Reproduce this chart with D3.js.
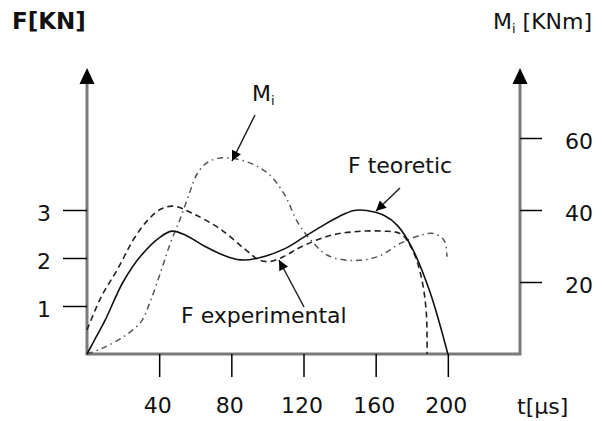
<!DOCTYPE html>
<html>
<head>
<meta charset="utf-8">
<script src="https://cdn.jsdelivr.net/npm/d3@7"></script>
<style>
  body { margin: 0; background: #fff; }
  text { font-family: "DejaVu Sans", Verdana, sans-serif; fill: #111; }
</style>
</head>
<body>
<div id="chart-area"></div>
<script>
// t [us] and values
const tTheor = [0, 5, 10, 20, 30, 40, 47, 55, 65, 75, 85, 95, 110, 120, 130, 140, 148, 155, 165, 172, 180, 190, 200];
const fTheor = [0, 0.35, 0.7, 1.5, 2.05, 2.42, 2.56, 2.47, 2.25, 2.07, 1.96, 2.0, 2.2, 2.43, 2.66, 2.87, 2.99, 2.99, 2.88, 2.68, 2.22, 1.3, 0];

const tExp = [0, 8, 17, 26, 34, 41, 48, 59, 74, 87, 96, 102, 110, 118, 133, 146, 164, 174, 180, 185, 188, 188.5];
const fExp = [0.5, 1.2, 1.77, 2.4, 2.8, 3.02, 3.08, 2.92, 2.6, 2.2, 1.95, 1.93, 2.05, 2.22, 2.45, 2.54, 2.56, 2.5, 2.2, 1.65, 0.9, 0];

const tMi = [0, 8, 20, 30, 35, 41, 46, 52, 57, 61, 67, 76, 89, 100, 109, 117, 124, 133, 146, 161, 174, 185, 192, 198, 199.5];
const mi = [0, 1.5, 4.7, 9, 14.5, 23, 30.5, 38, 45, 50, 53.3, 54.5, 53.3, 50.3, 44.7, 36.4, 31.7, 27.5, 26, 27, 30.8, 33, 33.5, 31.5, 27];

const xTicks = [40, 80, 120, 160, 200];
const fTicks = [1, 2, 3];
const mTicks = [20, 40, 60];

const width = 602, height = 421;

const svg = d3.select("#chart-area")
    .append("svg")
    .attr("width", width)
    .attr("height", height);

const x = d3.scaleLinear().domain([0, 240]).range([87, 520]);
const yF = d3.scaleLinear().domain([0, 3]).range([354, 210]);
const yM = d3.scaleLinear().domain([0, 60]).range([354, 138]);

const axisTop = 83;

svg.append("defs").append("marker")
    .attr("id", "head")
    .attr("viewBox", "0 0 10 10")
    .attr("refX", 10).attr("refY", 5)
    .attr("markerWidth", 12).attr("markerHeight", 10)
    .attr("markerUnits", "userSpaceOnUse")
    .attr("orient", "auto")
    .append("path")
    .attr("d", "M0,0 L10,5 L0,10 z")
    .attr("fill", "#000");

// axis frame
const axisColor = "#7a7a7a";
svg.append("path")
    .attr("d", `M${x(0)},${axisTop} V${yF(0)} H${x(240)} V${axisTop}`)
    .attr("fill", "none")
    .attr("stroke", axisColor)
    .attr("stroke-width", 3);

// axis arrowheads
[x(0), x(240)].forEach(ax => {
    svg.append("path")
        .attr("d", `M${ax},68 L${ax + 7.5},84 L${ax - 7.5},84 z`)
        .attr("fill", "#000");
});

// ticks
const gx = svg.append("g")
    .call(d3.axisBottom(x).tickValues(xTicks).tickSize(23).tickPadding(20).tickSizeOuter(0));
gx.attr("transform", `translate(-2,${yF(0)})`);
gx.selectAll(".tick line").attr("transform", "translate(2,0)");

const gl = svg.append("g")
    .attr("transform", `translate(${x(0)},0)`)
    .call(d3.axisLeft(yF).tickValues(fTicks).tickFormat(d3.format("d"))
        .tickSize(24).tickPadding(12).tickSizeOuter(0));

const gr = svg.append("g")
    .attr("transform", `translate(${x(240)},0)`)
    .call(d3.axisRight(yM).tickValues(mTicks).tickSize(22).tickPadding(23).tickSizeOuter(0));

[gx, gl, gr].forEach(g => {
    g.select(".domain").remove();
    g.selectAll(".tick line").attr("stroke", "#000").attr("stroke-width", 1.5);
    g.selectAll(".tick text")
        .attr("font-family", "DejaVu Sans, Verdana, sans-serif")
        .attr("font-size", 22)
        .attr("fill", "#111");
});
gl.selectAll(".tick text").attr("dy", "0.48em");
gr.selectAll(".tick text").attr("dy", "0.48em");

// curves
const smooth = d3.curveCatmullRom.alpha(0.5);
const lineF = d3.line().x(d => x(d[0])).y(d => yF(d[1])).curve(smooth);
const lineM = d3.line().x(d => x(d[0])).y(d => yM(d[1])).curve(smooth);

svg.append("path")
    .attr("d", lineM(d3.zip(tMi, mi)))
    .attr("fill", "none")
    .attr("stroke", "#555")
    .attr("stroke-width", 1.5)
    .attr("stroke-dasharray", "6,4,1.5,4");

svg.append("path")
    .attr("d", lineF(d3.zip(tExp, fExp)))
    .attr("fill", "none")
    .attr("stroke", "#222")
    .attr("stroke-width", 1.6)
    .attr("stroke-dasharray", "6,4");

svg.append("path")
    .attr("d", lineF(d3.zip(tTheor, fTheor)))
    .attr("fill", "none")
    .attr("stroke", "#111")
    .attr("stroke-width", 1.6);

// axis titles
svg.append("text")
    .attr("x", 12).attr("y", 29)
    .attr("font-size", 23)
    .attr("font-weight", "bold")
    .text("F[KN]");

const mTitle = svg.append("text")
    .attr("x", 493).attr("y", 29)
    .attr("font-size", 22);
mTitle.append("tspan").text("M");
mTitle.append("tspan").attr("font-size", 13).attr("dy", 4).text("i");
mTitle.append("tspan").attr("dy", -4).text(" [KNm]");

svg.append("text")
    .attr("x", 517).attr("y", 414)
    .attr("font-size", 22)
    .text("t[μs]");

// annotations
const miLabel = svg.append("text")
    .attr("x", 252).attr("y", 101)
    .attr("font-size", 22);
miLabel.append("tspan").text("M");
miLabel.append("tspan").attr("font-size", 13).attr("dy", 4).text("i");

svg.append("text")
    .attr("x", 348).attr("y", 173)
    .attr("font-size", 22)
    .text("F teoretic");

svg.append("text")
    .attr("x", 181).attr("y", 323)
    .attr("font-size", 22)
    .text("F experimental");

const arrows = [
    [255, 115, 232, 161],
    [400, 188, 376, 211],
    [304, 307, 279, 260]
];
svg.selectAll(".note-arrow")
    .data(arrows)
    .enter()
    .append("line")
    .attr("class", "note-arrow")
    .attr("x1", d => d[0]).attr("y1", d => d[1])
    .attr("x2", d => d[2]).attr("y2", d => d[3])
    .attr("stroke", "#222")
    .attr("stroke-width", 1.5)
    .attr("marker-end", "url(#head)");
</script>
</body>
</html>
